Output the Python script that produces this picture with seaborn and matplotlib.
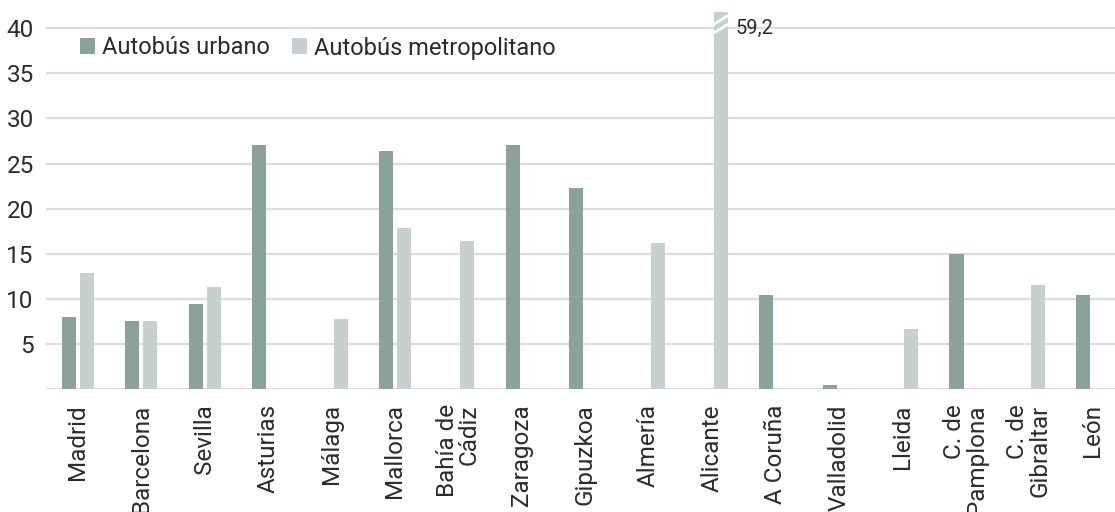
import numpy as np
import pandas as pd
import matplotlib
matplotlib.use("Agg")
import matplotlib.pyplot as plt
import seaborn as sns

# Values per area (NaN = no service of that type)
areas = ["Madrid", "Barcelona", "Sevilla", "Asturias", "Málaga", "Mallorca",
         "Bahía de\nCádiz", "Zaragoza", "Gipuzkoa", "Almería", "Alicante",
         "A Coruña", "Valladolid", "Lleida", "C. de\nPamplona", "C. de\nGibraltar", "León"]
urbano = [8.0, 7.5, 9.4, 27.1, np.nan, 26.4, np.nan, 27.1, 22.3, np.nan, np.nan,
          10.4, 0.4, np.nan, 15.0, np.nan, 10.4]
metropolitano = [12.9, 7.5, 11.3, np.nan, 7.8, 17.8, 16.4, np.nan, np.nan, 16.2, 59.2,
                 np.nan, np.nan, 6.7, np.nan, 11.5, np.nan]
series_names = ["Autobús urbano", "Autobús metropolitano"]
yticks = [0, 5, 10, 15, 20, 25, 30, 35, 40]
ytick_labels = ["", "5", "10", "15", "20", "25", "30", "35", "40"]
y_top = 41.8

colors = ["#8BA29B", "#C6D1CD"]
text_color = "#2B2B2B"

df = pd.DataFrame({
    "area": areas * 2,
    "serie": [series_names[0]] * len(areas) + [series_names[1]] * len(areas),
    "valor": urbano + metropolitano,
})

sns.set_theme(style="white")
plt.rcParams["font.family"] = ["Roboto", "DejaVu Sans"]
plt.rcParams["text.color"] = text_color

fig = plt.figure(figsize=(11.15, 5.12), dpi=100)
ax = fig.add_axes([46.3 / 1115, 1 - 389 / 512, (1124 - 46.3) / 1115, (389 - 12) / 512])

sns.barplot(data=df, x="area", y="valor", hue="serie", order=areas,
            hue_order=series_names, palette=colors, width=0.57, gap=0.22,
            errorbar=None, linewidth=0, saturation=1, ax=ax, zorder=3)

ax.set_xlim(-0.5, len(areas) - 0.5)
ax.set_ylim(0, y_top)
ax.set_yticks(yticks)
ax.set_yticklabels(ytick_labels)
ax.yaxis.grid(True, color="#DCDCDC", linewidth=1.6, zorder=0)
ax.set_axisbelow(True)
for s in ax.spines.values():
    s.set_visible(False)
ax.tick_params(axis="y", length=0, pad=9, labelsize=17.5, labelcolor=text_color)
ax.tick_params(axis="x", length=0, pad=11, labelsize=17.5, labelcolor=text_color)
ax.set_xticks(range(len(areas)))
ax.set_xticklabels(areas, rotation=90, ha="center", va="top",
                   multialignment="right", linespacing=0.95)
ax.set_xlabel("")
ax.set_ylabel("")

# Broken bar: mark the value beyond the axis top
for p in ax.patches:
    h = p.get_height()
    if np.isfinite(h) and h > y_top:
        x0, x1 = p.get_x(), p.get_x() + p.get_width()
        for y0 in (39.5, 40.45):
            ax.plot([x0, x1], [y0, y0 + 0.95], color="white", linewidth=2,
                    zorder=4, solid_capstyle="butt")
        ax.text(x1 + 0.12, 40.0, f"{h:.1f}".replace(".", ","), fontsize=14.5,
                va="center", ha="left", color=text_color, zorder=5)

handles, labels = ax.get_legend_handles_labels()
ax.legend(handles, labels, loc="center left", bbox_to_anchor=(80 / 1115, 1 - 48 / 512),
          bbox_transform=fig.transFigure, ncol=2, frameon=False, fontsize=17,
          handlelength=0.65, handleheight=0.65, handletextpad=0.3, columnspacing=0.9,
          borderaxespad=0, borderpad=0)

fig.savefig("out.png", dpi=100)
